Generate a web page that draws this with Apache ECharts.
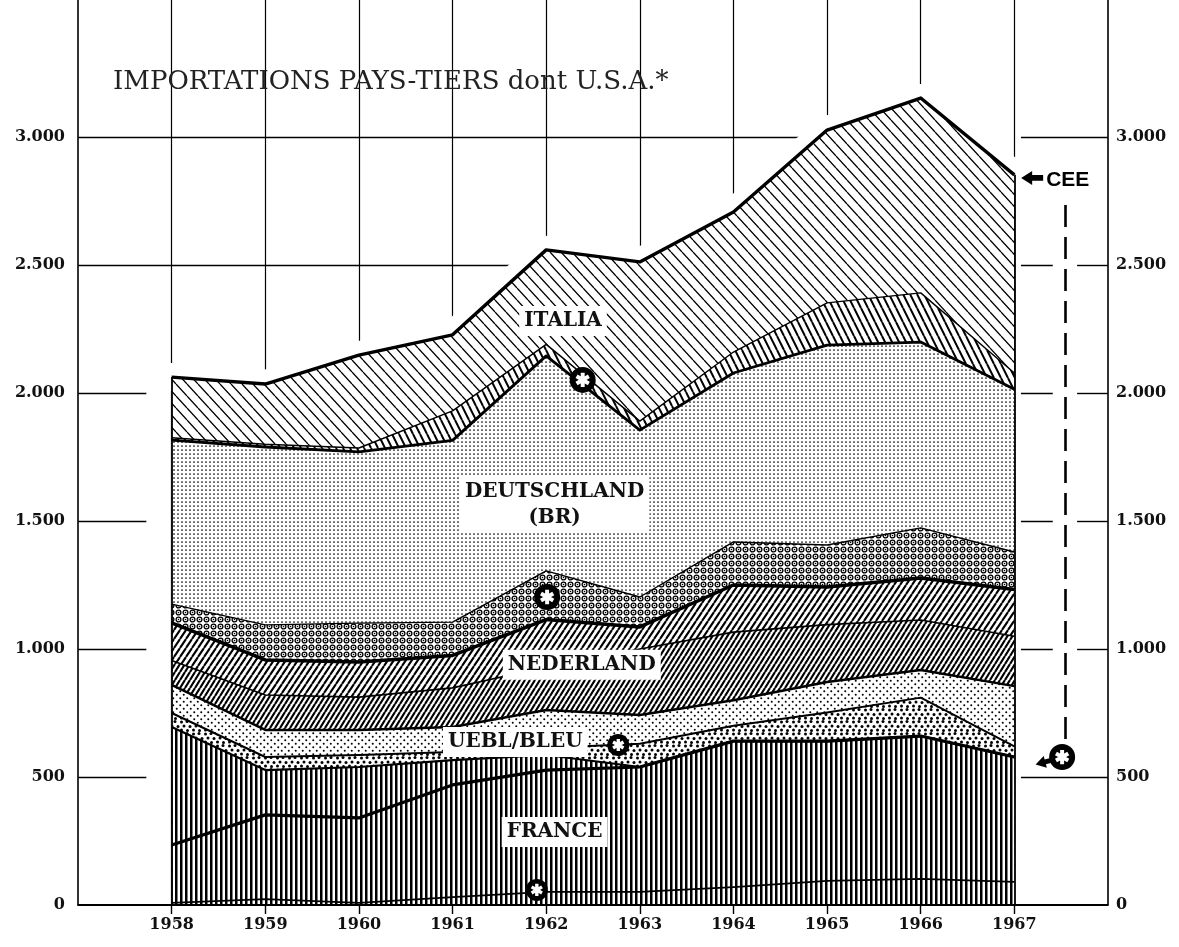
<!DOCTYPE html>
<html>
<head>
<meta charset="utf-8">
<title>Importations pays-tiers dont U.S.A.</title>
<script src="https://cdn.jsdelivr.net/npm/echarts@6/dist/echarts.min.js"></script>
<style>
    html, body { margin: 0; padding: 0; background: #fff; }
    #container { width: 1179px; height: 947px; }
</style>
</head>
<body>
<div id="container"></div>
<script>
var years = [1958, 1959, 1960, 1961, 1962, 1963, 1964, 1965, 1966, 1967];
// bandes empilees, de bas en haut (dont U.S.A. sous chaque pays)
var franceUsa = [8, 23, 8, 31, 51, 51, 70, 94, 102, 90];
var franceAutres = [687, 504, 531, 535, 535, 488, 570, 546, 558, 488];
var uebleUsa = [55, 51, 47, 32, 27, 91, 60, 112, 150, 42];
var uebleAutres = [110, 106, 98, 97, 149, 112, 100, 119, 108, 235];
var nederlandUsa = [95, 136, 128, 153, 168, 258, 266, 224, 195, 195];
var nederlandAutres = [147, 137, 137, 127, 185, 86, 184, 147, 164, 182];
var deutschlandUsa = [73, 137, 152, 130, 190, 117, 168, 164, 196, 147];
var deutschlandAutres = [641, 695, 669, 710, 840, 652, 660, 781, 726, 636];
var italiaUsa = [9, 11, 15, 115, 45, 35, 82, 165, 192, 63];
var italiaAutres = [237, 235, 363, 297, 369, 622, 547, 675, 761, 774];
// CEE dont U.S.A.
var ceeUsa = [234, 352, 340, 469, 527, 539, 640, 640, 660, 578];
var yTicks = [0, 500, 1000, 1500, 2000, 2500, 3000];

var ChartModule = (function (echarts) {
    var chart;

    function motif(w, h, draw) {
        var c = document.createElement('canvas');
        c.width = w;
        c.height = h;
        var ctx = c.getContext('2d');
        ctx.fillStyle = '#fff';
        ctx.fillRect(0, 0, w, h);
        ctx.fillStyle = '#000';
        ctx.strokeStyle = '#000';
        draw(ctx, w, h);
        return { image: c, repeat: 'repeat' };
    }
    function verticales(w, lw) {
        return motif(w, 4, function (ctx, w, h) { ctx.fillRect(0, 0, lw, h); });
    }
    function hachures(w, h, lw, sens) {
        return motif(w, h, function (ctx) {
            ctx.lineWidth = lw;
            ctx.beginPath();
            for (var k = -1; k <= 1; k++) {
                if (sens > 0) { ctx.moveTo(k * w, h); ctx.lineTo(k * w + w, 0); }
                else { ctx.moveTo(k * w, 0); ctx.lineTo(k * w + w, h); }
            }
            ctx.stroke();
        });
    }
    function points(w, h, r, pts) {
        return motif(w, h, function (ctx) {
            pts.forEach(function (p) {
                ctx.beginPath();
                ctx.arc(p[0], p[1], r, 0, Math.PI * 2);
                ctx.fill();
            });
        });
    }
    function vagues() {
        return motif(7, 7, function (ctx) {
            ctx.lineWidth = 1.3;
            ctx.beginPath();
            ctx.arc(3.5, 3.5, 2.4, 0, Math.PI * 2);
            ctx.stroke();
            ctx.beginPath();
            ctx.arc(3.5, 3.5, 0.8, 0, Math.PI * 2);
            ctx.fill();
        });
    }

    function paires(vals) {
        return years.map(function (y, i) { return [y, vals[i]]; });
    }
    function milliers(v) {
        return v >= 1000 ? Math.floor(v / 1000) + '.' + String(v % 1000).padStart(3, '0') : String(v);
    }

    var etoile = 'path://' + [0, 60, 120].map(function (a) {
        var r = a * Math.PI / 180, c = Math.cos(r), s = Math.sin(r);
        return [[-1.4, -5], [1.4, -5], [1.4, 5], [-1.4, 5]].map(function (p, i) {
            return (i ? 'L' : 'M') + (p[0] * c - p[1] * s).toFixed(2) + ',' + (p[0] * s + p[1] * c).toFixed(2);
        }).join('') + 'Z';
    }).join(' ');
    var fleche = 'path://M0,6 L9,0 L9,3.5 L18,3.5 L18,8.5 L9,8.5 L9,12 Z';

    function init() {
        chart = echarts.init(document.getElementById('container'));

        var bandes = [franceUsa, franceAutres, uebleUsa, uebleAutres, nederlandUsa,
            nederlandAutres, deutschlandUsa, deutschlandAutres, italiaUsa, italiaAutres];
        var noms = ['France U.S.A.', 'France', 'UEBL U.S.A.', 'UEBL', 'Nederland U.S.A.',
            'Nederland', 'Deutschland U.S.A.', 'Deutschland', 'Italia U.S.A.', 'Italia'];
        var motifs = [
            verticales(5, 2.5), verticales(5, 2.5),
            points(12, 12, 1.5, [[1.5, 2], [7, 1.5], [4, 6], [10, 6.5], [1.5, 10], [7.5, 10.5]]),
            points(7, 7, 1.0, [[1.75, 1.75], [5.25, 5.25]]),
            hachures(5, 8, 2.2, 1), hachures(6, 9, 2.1, 1),
            vagues(),
            points(4, 4, 0.85, [[2, 2]]),
            hachures(7, 14, 2.0, -1), hachures(11, 12, 1.3, -1)
        ];
        var epaisseurs = [1.8, 2.2, 2.0, 2.5, 1.6, 3.5, 1.4, 2.8, 1.4, 3.4];

        // cumul des bandes (l'axe x etant une valeur, on empile a la main)
        var cumuls = [];
        var somme = years.map(function () { return 0; });
        bandes.forEach(function (b) {
            somme = somme.map(function (s, i) { return s + b[i]; });
            cumuls.push(somme.slice());
        });
        var total = cumuls[cumuls.length - 1];

        // grille horizontale : s'arrete avant les surfaces
        var dashX = 1967.54, dashBas = 630, dashHaut = 2734;
        function croisement(v) {
            for (var i = 0; i < total.length - 1; i++) {
                if (total[i] < v && total[i + 1] >= v) {
                    return years[i] + (v - total[i]) / (total[i + 1] - total[i]);
                }
            }
            return years[years.length - 1];
        }
        var grille = [];
        yTicks.forEach(function (v) {
            if (v === 0) return;
            var fin = v <= total[0] ? 1957.73 : croisement(v);
            grille.push([{ coord: [1957, v] }, { coord: [fin, v] }]);
            if (v > dashBas && v < dashHaut) {
                grille.push([{ coord: [1967.07, v] }, { coord: [dashX - 0.13, v] }]);
                grille.push([{ coord: [dashX + 0.13, v] }, { coord: [1968, v] }]);
            } else {
                grille.push([{ coord: [1967.07, v] }, { coord: [1968, v] }]);
            }
        });

        var series = [{
            name: 'halo',
            type: 'line',
            data: paires(total),
            symbol: 'none',
            silent: true,
            z: 2,
            lineStyle: { color: '#fff', width: 28, cap: 'round', join: 'round' },
            markLine: {
                symbol: 'none',
                silent: true,
                z: 1,
                label: { show: false },
                lineStyle: { color: '#000', width: 1.4, type: 'solid' },
                data: grille
            }
        }];

        // surfaces : de la plus haute a la plus basse, chacune recouvre la precedente
        for (var i = cumuls.length - 1; i >= 0; i--) {
            series.push({
                name: noms[i],
                type: 'line',
                data: paires(cumuls[i]),
                symbol: 'none',
                silent: true,
                z: 3,
                lineStyle: { width: 0 },
                areaStyle: { color: motifs[i], opacity: 1 }
            });
        }

        cumuls.forEach(function (c, i) {
            series.push({
                type: 'line',
                data: paires(c),
                symbol: 'none',
                silent: true,
                z: 4,
                lineStyle: { color: '#000', width: epaisseurs[i], join: 'round' }
            });
        });

        var texte = {
            show: true,
            position: 'inside',
            formatter: '{b}',
            color: '#111',
            fontFamily: 'DejaVu Serif',
            fontWeight: 'bold',
            fontSize: 20,
            lineHeight: 26,
            backgroundColor: '#fff',
            padding: [3, 5, 1, 5]
        };
        var invisible = { symbol: 'rect', symbolSize: 1, itemStyle: { color: 'rgba(0,0,0,0)' }, label: texte };
        function etiquette(nom, coord) {
            return Object.assign({ name: nom, coord: coord }, invisible);
        }
        var asterisques = [[1962.39, 2051, 26], [1962.01, 1203, 26], [1962.77, 625, 22],
            [1961.90, 59, 22], [1967.51, 578, 26]];

        var marques = [
            etiquette('ITALIA', [1962.18, 2281]),
            etiquette('DEUTSCHLAND\n(BR)', [1962.09, 1562]),
            etiquette('NEDERLAND', [1962.38, 938]),
            etiquette('UEBL/BLEU', [1961.67, 637]),
            etiquette('FRANCE', [1962.09, 285])
        ];
        asterisques.forEach(function (a) {
            marques.push({ coord: [a[0], a[1]], symbol: 'circle', symbolSize: a[2], itemStyle: { color: '#000' } });
        });
        asterisques.forEach(function (a) {
            marques.push({ coord: [a[0], a[1]], symbol: etoile, symbolSize: a[2] * 0.55, itemStyle: { color: '#fff' } });
        });
        marques.push({ coord: [1967.19, 2840], symbol: fleche, symbolSize: [22, 14], itemStyle: { color: '#000' } });
        marques.push({ coord: [1967.33, 559], symbol: fleche, symbolSize: [20, 12], symbolRotate: 15, itemStyle: { color: '#000' } });
        marques.push({
            name: 'CEE', coord: [1967.57, 2832], symbol: 'rect', symbolSize: 1,
            itemStyle: { color: 'rgba(0,0,0,0)' },
            label: { show: true, position: 'inside', formatter: '{b}', color: '#000',
                fontFamily: 'Liberation Sans', fontWeight: 'bold', fontSize: 21 }
        });

        series.push({
            name: 'CEE dont U.S.A.',
            type: 'line',
            data: paires(ceeUsa),
            symbol: 'none',
            silent: true,
            z: 4,
            lineStyle: { color: '#000', width: 3.2, join: 'round' },
            markLine: {
                symbol: 'none',
                silent: true,
                z: 4,
                label: { show: false },
                lineStyle: { color: '#000', width: 1.8, type: 'solid' },
                data: [
                    [{ coord: [years[0], 0] }, { coord: [years[0], total[0]] }],
                    [{ coord: [years[years.length - 1], 0] }, { coord: [years[years.length - 1], total[total.length - 1]] }],
                    [{ coord: [1957, 0] }, { coord: [1968, 0] }],
                    [{ coord: [dashX, dashHaut], lineStyle: { type: [22, 10], width: 2.6 } }, { coord: [dashX, dashBas] }]
                ]
            },
            markPoint: {
                silent: true,
                z: 6,
                label: { show: false },
                data: marques
            }
        });

        var option = {
            animation: false,
            backgroundColor: '#fff',
            title: {
                text: 'IMPORTATIONS PAYS-TIERS dont U.S.A.*',
                left: 108,
                top: 64,
                textStyle: { fontFamily: 'DejaVu Serif', fontWeight: 'normal', fontSize: 26, color: '#222' }
            },
            grid: { left: 78, right: 71, top: 0, bottom: 42 },
            xAxis: {
                type: 'value',
                min: 1957,
                max: 1968,
                interval: 1,
                axisLine: { show: true, lineStyle: { color: '#000', width: 1.6 } },
                axisTick: { show: true, customValues: years, length: 9, lineStyle: { color: '#000', width: 1.4 } },
                axisLabel: {
                    customValues: years,
                    formatter: function (v) { return String(v); },
                    margin: 12,
                    color: '#111',
                    fontFamily: 'DejaVu Serif',
                    fontWeight: 'bold',
                    fontSize: 16
                },
                splitLine: { show: true, lineStyle: { color: '#000', width: 1.2 } }
            },
            yAxis: [{
                type: 'value',
                min: 0,
                max: 3535,
                position: 'left',
                axisLine: { show: true, lineStyle: { color: '#000', width: 1.6 } },
                axisTick: { show: false },
                splitLine: { show: false },
                axisLabel: {
                    customValues: yTicks,
                    formatter: milliers,
                    margin: 13,
                    color: '#111',
                    fontFamily: 'DejaVu Serif',
                    fontWeight: 'bold',
                    fontSize: 16
                }
            }, {
                type: 'value',
                min: 0,
                max: 3535,
                position: 'right',
                axisLine: { show: true, lineStyle: { color: '#000', width: 1.6 } },
                axisTick: { show: false },
                splitLine: { show: false },
                axisLabel: {
                    customValues: yTicks,
                    formatter: milliers,
                    margin: 8,
                    color: '#111',
                    fontFamily: 'DejaVu Serif',
                    fontWeight: 'bold',
                    fontSize: 16
                }
            }],
            series: series
        };
        chart.setOption(option);
    }

    return { init: init };
})(echarts);

ChartModule.init();
</script>
</body>
</html>
